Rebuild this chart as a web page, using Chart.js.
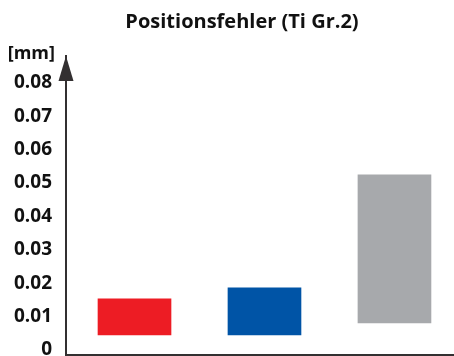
<!DOCTYPE html>
<html>
<head>
<meta charset="utf-8">
<script src="https://cdn.jsdelivr.net/npm/chart.js@4/dist/chart.umd.min.js"></script>
<style>
  html, body { margin: 0; padding: 0; background: #fff; overflow: hidden; }
  #wrap { width: 454px; height: 356px; }
</style>
</head>
<body>
<div id="wrap"><canvas id="chart"></canvas></div>
<script>
// floating bars: each bar spans [low, high] in mm
const positions = [1, 2, 3]
const lowValues = [0.0045, 0.0045, 0.0081]
const highValues = [0.0153, 0.0186, 0.0524]
const barColors = ['#ed1c24', '#0054a6', '#a7a9ac']
const tickValues = [0, 0.01, 0.02, 0.03, 0.04, 0.05, 0.06, 0.07, 0.08]
const tickLabels = ['0', '0.01', '0.02', '0.03', '0.04', '0.05', '0.06', '0.07', '0.08']

const axisColor = '#333031'
const fontFamily = '"Open Sans", "DejaVu Sans", sans-serif'

// arrowhead on the value axis plus the unit label above it
const axisArrow = {
  id: 'axisArrow',
  afterLayout(chart) {
    // centre the title a little right of the canvas middle
    if (chart.titleBlock) chart.titleBlock.left = 30
  },
  afterDraw(chart) {
    const { ctx, chartArea } = chart
    const x = chartArea.left
    const top = chartArea.top
    ctx.save()
    ctx.fillStyle = axisColor
    ctx.beginPath()
    ctx.moveTo(x, top)
    ctx.lineTo(x + 7.5, top + 25)
    ctx.lineTo(x - 7.5, top + 25)
    ctx.closePath()
    ctx.fill()
    ctx.fillStyle = '#111'
    ctx.font = 'bold 18px ' + fontFamily
    ctx.textAlign = 'right'
    ctx.textBaseline = 'middle'
    ctx.fillText('[mm]', 55, top - 2)
    ctx.restore()
  }
}

new Chart(document.getElementById('chart'), {
  type: 'bar',
  data: {
    datasets: [{
      data: positions.map((x, i) => ({ x: x, y: [lowValues[i], highValues[i]] })),
      backgroundColor: barColors,
      borderWidth: 0,
      barThickness: 73
    }]
  },
  options: {
    responsive: true,
    maintainAspectRatio: false,
    animation: false,
    layout: { padding: { left: 0, right: 0, top: 0, bottom: 1 } },
    plugins: {
      legend: { display: false },
      tooltip: { enabled: false },
      title: {
        display: true,
        text: 'Positionsfehler (Ti Gr.2)',
        color: '#111',
        font: { family: fontFamily, size: 20, weight: 'bold' },
        padding: { top: 10, bottom: 22 }
      }
    },
    scales: {
      x: {
        type: 'linear',
        offset: false,
        min: 0.473,
        max: 3.458,
        afterFit: s => { s.height = 0 },
        ticks: { display: false },
        grid: { display: false, drawTicks: false },
        border: { display: true, color: axisColor, width: 2 }
      },
      y: {
        min: -0.0015,
        max: 0.088,
        afterBuildTicks: s => { s.ticks = tickValues.map(v => ({ value: v })) },
        afterFit: s => {
          s.width = 66
          s.paddingTop = 0
          s.paddingBottom = 0
        },
        ticks: {
          callback: (v, i) => tickLabels[i],
          color: '#111',
          padding: 14,
          font: { family: fontFamily, size: 19, weight: 'bold' }
        },
        grid: { display: false, drawTicks: false },
        border: { display: true, color: axisColor, width: 2 }
      }
    }
  },
  plugins: [axisArrow]
})
</script>
</body>
</html>
